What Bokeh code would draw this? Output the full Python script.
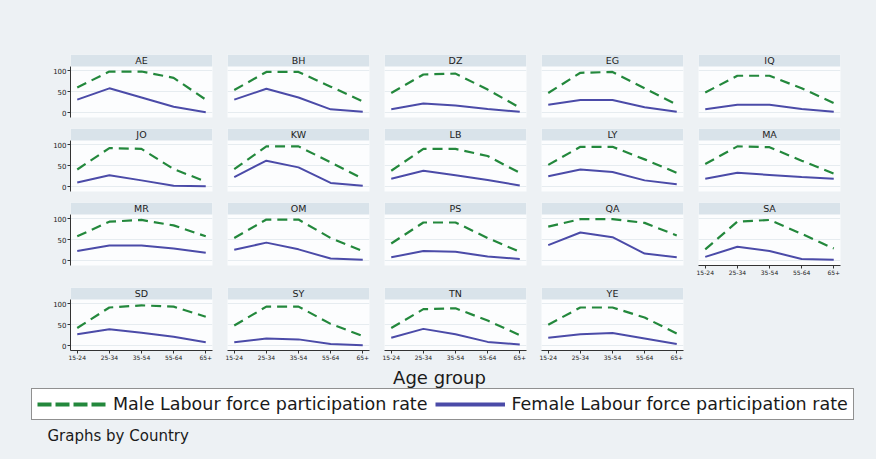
from bokeh.plotting import figure
from bokeh.layouts import column, row
from bokeh.models import (Range1d, FixedTicker, LinearAxis, Grid, Legend,
                          LegendItem, Label, BoxAnnotation)
from bokeh.embed import file_html
from bokeh.resources import INLINE

# ---------------- data ----------------
AGE_GROUPS = ["15-24", "25-34", "35-54", "55-64", "65+"]
COUNTRIES = ["AE", "BH", "DZ", "EG", "IQ",
             "JO", "KW", "LB", "LY", "MA",
             "MR", "OM", "PS", "QA", "SA",
             "SD", "SY", "TN", "YE"]
Y_TICKS = [0, 50, 100]

MALE_AE = [60, 98, 98, 83, 31]
MALE_BH = [54, 97, 97, 62, 27]
MALE_DZ = [47, 91, 93, 55, 12]
MALE_EG = [47, 95, 97, 58, 19]
MALE_IQ = [48, 88, 88, 58, 23]
MALE_JO = [41, 92, 90, 42, 12]
MALE_KW = [42, 96, 96, 58, 19]
MALE_LB = [38, 90, 90, 73, 33]
MALE_LY = [52, 95, 95, 65, 33]
MALE_MA = [54, 96, 94, 62, 31]
MALE_MR = [58, 93, 97, 84, 58]
MALE_OM = [54, 98, 98, 54, 23]
MALE_PS = [41, 91, 91, 54, 21]
MALE_QA = [81, 99, 99, 90, 60]
MALE_SA = [27, 93, 97, 64, 29]
MALE_SD = [42, 91, 96, 93, 69]
MALE_SY = [48, 93, 93, 52, 23]
MALE_TN = [42, 87, 89, 60, 25]
MALE_YE = [50, 91, 91, 67, 29]

FEMALE_AE = [31, 58, 36, 14, 1]
FEMALE_BH = [31, 57, 36, 8, 2]
FEMALE_DZ = [8, 22, 17, 9, 2]
FEMALE_EG = [19, 30, 30, 13, 2]
FEMALE_IQ = [8, 19, 19, 9, 2]
FEMALE_JO = [10, 27, 15, 2, 1]
FEMALE_KW = [23, 62, 46, 9, 2]
FEMALE_LB = [19, 38, 27, 16, 3]
FEMALE_LY = [25, 41, 35, 15, 6]
FEMALE_MA = [19, 33, 28, 23, 19]
FEMALE_MR = [23, 36, 36, 29, 19]
FEMALE_OM = [26, 43, 27, 5, 2]
FEMALE_PS = [8, 23, 21, 10, 4]
FEMALE_QA = [37, 67, 56, 17, 8]
FEMALE_SA = [9, 33, 23, 4, 2]
FEMALE_SD = [27, 39, 31, 21, 8]
FEMALE_SY = [8, 17, 15, 4, 1]
FEMALE_TN = [19, 40, 27, 9, 3]
FEMALE_YE = [19, 27, 30, 17, 4]

MALE_LABEL = "Male Labour force participation rate"
FEMALE_LABEL = "Female Labour force participation rate"
X_TITLE = "Age group"
NOTE = "Graphs by Country"

MALE = {k: v for k, v in [
    ("AE", MALE_AE), ("BH", MALE_BH), ("DZ", MALE_DZ), ("EG", MALE_EG),
    ("IQ", MALE_IQ), ("JO", MALE_JO), ("KW", MALE_KW), ("LB", MALE_LB),
    ("LY", MALE_LY), ("MA", MALE_MA), ("MR", MALE_MR), ("OM", MALE_OM),
    ("PS", MALE_PS), ("QA", MALE_QA), ("SA", MALE_SA), ("SD", MALE_SD),
    ("SY", MALE_SY), ("TN", MALE_TN), ("YE", MALE_YE)]}
FEMALE = {k: v for k, v in [
    ("AE", FEMALE_AE), ("BH", FEMALE_BH), ("DZ", FEMALE_DZ), ("EG", FEMALE_EG),
    ("IQ", FEMALE_IQ), ("JO", FEMALE_JO), ("KW", FEMALE_KW), ("LB", FEMALE_LB),
    ("LY", FEMALE_LY), ("MA", FEMALE_MA), ("MR", FEMALE_MR), ("OM", FEMALE_OM),
    ("PS", FEMALE_PS), ("QA", FEMALE_QA), ("SA", FEMALE_SA), ("SD", FEMALE_SD),
    ("SY", FEMALE_SY), ("TN", FEMALE_TN), ("YE", FEMALE_YE)]}

# ---------------- style ----------------
BG = "#edf1f4"
STRIP = "#d9e3ea"
PLOT_BG = "#fcfdfe"
GRID_C = "#e6ecf0"
MALE_C = "#23883c"
FEMALE_C = "#4b4ba8"
AXIS_C = "#333333"
FONT = "DejaVu Sans"

NCOL = 5
FRAME_W = 142
DATA_H = 51          # height of the data part of each panel
STRIP_H = 12         # height of the grey title strip on top of each panel
COL_LEFT = [70, 8, 8, 8, 8]
COL_RIGHT = [7, 7, 7, 7, 36]
ROW_TOP = [54, 0, 0, 0]
ROW_BOTTOM = [11, 11, 22, 14]

X_POS = [i + 1 for i in range(len(AGE_GROUPS))]
X_PAD = 0.21
Y_LO, Y_HI = -11.5, 110.0
Y_STRIP_TOP = Y_HI + STRIP_H * (Y_HI - Y_LO) / DATA_H

layout_styles = {"background-color": BG}


def make_panel(country, r, c, n_rows):
    below_empty = (r + 1) * NCOL + c >= len(COUNTRIES)
    has_x = (r == n_rows - 1) or below_empty
    has_y = c == 0
    w = COL_LEFT[c] + FRAME_W + COL_RIGHT[c]
    h = ROW_TOP[r] + STRIP_H + DATA_H + ROW_BOTTOM[r]
    p = figure(width=w, height=h, title=None,
               x_range=Range1d(X_POS[0] - X_PAD, X_POS[-1] + X_PAD),
               y_range=Range1d(Y_LO, Y_STRIP_TOP),
               x_axis_location=None, y_axis_location=None,
               toolbar_location=None, output_backend="svg",
               min_border_left=COL_LEFT[c], min_border_right=COL_RIGHT[c],
               min_border_top=ROW_TOP[r], min_border_bottom=ROW_BOTTOM[r])
    p.background_fill_color = PLOT_BG
    p.border_fill_color = BG
    p.outline_line_color = None
    p.grid.visible = False
    p.add_layout(Grid(dimension=1, ticker=FixedTicker(ticks=Y_TICKS),
                      grid_line_color=GRID_C, grid_line_width=1))

    if has_y:
        ya = LinearAxis(ticker=FixedTicker(ticks=Y_TICKS))
        ya.axis_line_color = AXIS_C
        ya.major_tick_line_color = AXIS_C
        ya.major_tick_out = 3
        ya.major_tick_in = 0
        ya.minor_tick_line_color = None
        ya.major_label_standoff = 1
        ya.major_label_text_font = FONT
        ya.major_label_text_font_size = "7px"
        ya.major_label_text_color = "#222222"
        ya.bounds = (Y_LO, Y_HI)
        p.add_layout(ya, "left")
    if has_x:
        xa = LinearAxis(ticker=FixedTicker(ticks=X_POS))
        xa.major_label_overrides = {x: lab for x, lab in zip(X_POS, AGE_GROUPS)}
        xa.axis_line_color = AXIS_C
        xa.major_tick_line_color = AXIS_C
        xa.major_tick_out = 3
        xa.major_tick_in = 0
        xa.minor_tick_line_color = None
        xa.major_label_standoff = 1
        xa.major_label_text_font = FONT
        xa.major_label_text_font_size = "6px"
        xa.major_label_text_color = "#222222"
        p.add_layout(xa, "below")

    p.line(X_POS, MALE[country], line_color=MALE_C, line_width=2.2,
           line_dash="10 6")
    p.line(X_POS, FEMALE[country], line_color=FEMALE_C, line_width=2)

    # title strip
    p.add_layout(BoxAnnotation(bottom=Y_HI, fill_color=STRIP, fill_alpha=1.0,
                               line_color=None))
    p.add_layout(Label(x=(X_POS[0] + X_POS[-1]) / 2,
                       y=(Y_HI + Y_STRIP_TOP) / 2, text=country,
                       text_align="center", text_baseline="middle",
                       text_font=FONT, text_font_size="9.5px",
                       text_color="#222222"))
    return p


def blank(r, c):
    w = COL_LEFT[c] + FRAME_W + COL_RIGHT[c]
    h = ROW_TOP[r] + STRIP_H + DATA_H + ROW_BOTTOM[r]
    p = figure(width=w, height=h, title=None, toolbar_location=None,
               output_backend="svg",
               x_axis_location=None, y_axis_location=None, min_border=0,
               x_range=Range1d(0, 1), y_range=Range1d(0, 1))
    p.grid.visible = False
    p.outline_line_color = None
    p.background_fill_color = BG
    p.border_fill_color = BG
    return p


n_rows = (len(COUNTRIES) + NCOL - 1) // NCOL
rows = []
for r in range(n_rows):
    figs = []
    for c in range(NCOL):
        i = r * NCOL + c
        if i < len(COUNTRIES):
            figs.append(make_panel(COUNTRIES[i], r, c, n_rows))
        else:
            figs.append(blank(r, c))
    rows.append(row(*figs, spacing=0, styles=layout_styles))

# ---------------- bottom: axis title, legend, note ----------------
BW = 876
BH = 459 - sum(ROW_TOP[r] + STRIP_H + DATA_H + ROW_BOTTOM[r] for r in range(n_rows))
bot = figure(width=BW, height=BH, title=None, toolbar_location=None,
             output_backend="svg",
             x_axis_location=None, y_axis_location=None, min_border=0,
             x_range=Range1d(0, BW), y_range=Range1d(0, BH))
bot.grid.visible = False
bot.outline_line_color = None
bot.background_fill_color = BG
bot.border_fill_color = BG

NAN = float("nan")
rm = bot.line(x=[NAN, NAN], y=[NAN, NAN], line_color=MALE_C, line_width=4,
              line_dash="14 4")
rf = bot.line(x=[NAN, NAN], y=[NAN, NAN], line_color=FEMALE_C, line_width=4)
legend = Legend(items=[LegendItem(label=MALE_LABEL, renderers=[rm]),
                       LegendItem(label=FEMALE_LABEL, renderers=[rf])],
                orientation="horizontal", location=(31, 39),
                glyph_width=70, glyph_height=18, label_height=18,
                label_standoff=6, spacing=8, padding=5, margin=0,
                label_text_font=FONT, label_text_font_size="17.5px",
                label_text_color="#1a1a1a",
                border_line_color="#222222", border_line_width=1,
                background_fill_color="white", background_fill_alpha=1.0)
bot.add_layout(legend)

bot.add_layout(Label(x=439, y=BH - 13, text=X_TITLE, text_align="center",
                     text_baseline="alphabetic", text_font=FONT,
                     text_font_size="18px", text_color="#1a1a1a"))
bot.add_layout(Label(x=47, y=BH - 71, text=NOTE, text_align="left",
                     text_baseline="alphabetic", text_font=FONT,
                     text_font_size="15px", text_color="#1a1a1a"))

layout = column(*rows, bot, spacing=0, styles=layout_styles)
open("out.html", "w").write(file_html(layout, INLINE))
